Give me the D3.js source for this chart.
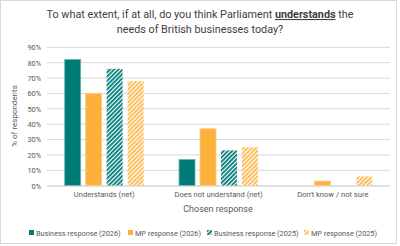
<!DOCTYPE html>
<html><head><meta charset="utf-8">
<script src="https://cdn.jsdelivr.net/npm/d3@7"></script>
<style>body{margin:0;background:#fff}svg{display:block;font-family:Roboto,"Open Sans",sans-serif}</style>
</head><body><svg id="c" width="400" height="246"></svg>
<script>
const categories = ["Understands (net)", "Does not understand (net)", "Don't know / not sure"];
const seriesNames = ["Business response (2026)", "MP response (2026)", "Business response (2025)", "MP response (2025)"];
const business2026 = [82, 17, 0];
const mp2026 = [60, 37, 3];
const business2025 = [76, 23, 0];
const mp2025 = [68, 25, 6];
const yTicks = [0, 10, 20, 30, 40, 50, 60, 70, 80, 90];

const seriesValues = [business2026, mp2026, business2025, mp2025];
const fills = ["#007B78", "#FBB13C", "url(#hatchTeal)", "url(#hatchOrange)"];
const strokes = ["#5FB3B0", "#FCCB78", "none", "none"];

const svg = d3.select("#c");
const defs = svg.append("defs");
function hatch(id, color, w) {
  const p = defs.append("pattern").attr("id", id).attr("patternUnits", "userSpaceOnUse")
    .attr("width", 3).attr("height", 3).attr("patternTransform", "rotate(45)");
  p.append("rect").attr("width", 3).attr("height", 3).attr("fill", "#fff");
  p.append("rect").attr("width", w).attr("height", 3).attr("fill", color);
}
hatch("hatchTeal", "#007B78", 1.8);
hatch("hatchOrange", "#FBB13C", 1.6);

svg.append("rect").attr("x", 0.5).attr("y", 0.5).attr("width", 396).attr("height", 243)
  .attr("fill", "#fff").attr("stroke", "#d9d9d9");

const pL = 47, pR = 390, pT = 47.3, pB = 185.7;
const x0 = d3.scaleBand().domain(categories).range([pL, pR]).paddingInner(0.31).paddingOuter(0.155);
const x1 = d3.scaleBand().domain(d3.range(4)).range([0, x0.bandwidth()]).paddingInner(0.24);
const y = d3.scaleLinear().domain([0, 90]).range([pB, pT]);

svg.append("g").selectAll("line").data(yTicks).join("line")
  .attr("x1", pL).attr("x2", pR).attr("y1", d => y(d)).attr("y2", d => y(d))
  .attr("stroke", "#d9d9d9").attr("stroke-width", 1);

const yAxis = svg.append("g").attr("transform", `translate(${pL},0)`)
  .call(d3.axisLeft(y).tickValues(yTicks).tickFormat(d => d + "%").tickSize(0).tickPadding(6));
yAxis.select(".domain").remove();
yAxis.selectAll("text").attr("fill", "#595959").attr("font-size", 7.3).attr("font-family", "Roboto");

categories.forEach((c, ci) => {
  seriesValues.forEach((vals, si) => {
    const v = vals[ci];
    if (v <= 0) return;
    const bx = x0(c) + x1(si);
    svg.append("rect").attr("x", bx).attr("y", y(v)).attr("width", x1.bandwidth())
      .attr("height", y(0) - y(v)).attr("fill", fills[si])
      .attr("stroke", strokes[si]).attr("stroke-width", 0.8);
  });
});

const xAxis = svg.append("g").attr("transform", `translate(0,${pB})`)
  .call(d3.axisBottom(x0).tickSize(0).tickPadding(6));
xAxis.select(".domain").attr("stroke", "#d9d9d9");
xAxis.selectAll("text").attr("fill", "#595959").attr("font-size", 7.6).attr("font-family", "Roboto");

svg.append("text").attr("x", 200).attr("y", 18).attr("text-anchor", "middle")
  .attr("font-size", 10.8).attr("fill", "#404040")
  .call(t => {
    t.append("tspan").text("To what extent, if at all, do you think Parliament ");
    t.append("tspan").attr("font-weight", "bold").attr("text-decoration", "underline").text("understands");
    t.append("tspan").text(" the");
  });
svg.append("text").attr("x", 200).attr("y", 33).attr("text-anchor", "middle")
  .attr("font-size", 10.8).attr("fill", "#404040").text("needs of British businesses today?");

svg.append("text").attr("transform", "translate(17,116) rotate(-90)").attr("text-anchor", "middle")
  .attr("font-size", 8).attr("fill", "#595959").text("% of respondents");
svg.append("text").attr("x", 218).attr("y", 212).attr("text-anchor", "middle")
  .attr("font-size", 9).attr("fill", "#595959").text("Chosen response");

const legendX = [29, 128, 207, 304];
const legendFills = ["#007B78", "#FBB13C", "url(#hatchTeal)", "url(#hatchOrange)"];
seriesNames.forEach((n, i) => {
  svg.append("rect").attr("x", legendX[i]).attr("y", 230).attr("width", 5).attr("height", 5)
    .attr("fill", legendFills[i]);
  svg.append("text").attr("x", legendX[i] + 7).attr("y", 235.5).attr("font-size", 7.3)
    .attr("fill", "#595959").text(n);
});
</script></body></html>
